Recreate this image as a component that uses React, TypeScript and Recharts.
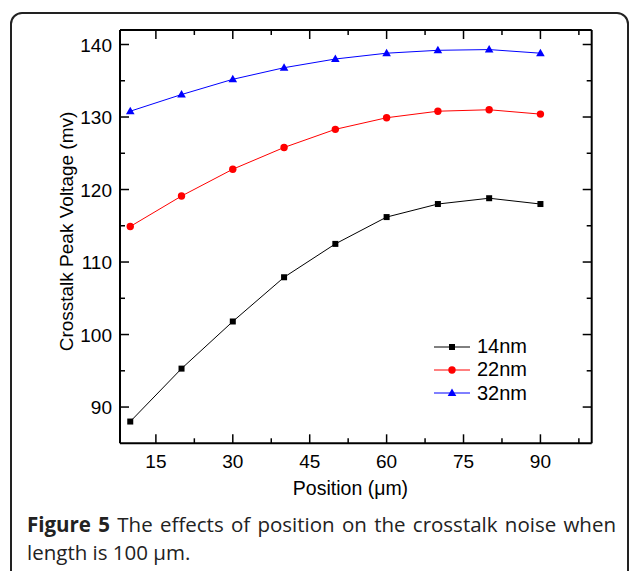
import React from "react";
import { LineChart, Line, XAxis, YAxis, Legend, Label } from "recharts";

// position along the line (um)
const positions = [10, 20, 30, 40, 50, 60, 70, 80, 90];
// crosstalk peak voltage (mv) per technology node
const nm14 = [88.0, 95.3, 101.8, 107.9, 112.5, 116.2, 118.0, 118.8, 118.0];
const nm22 = [114.9, 119.1, 122.8, 125.8, 128.3, 129.9, 130.8, 131.0, 130.4];
const nm32 = [130.8, 133.1, 135.2, 136.8, 138.0, 138.8, 139.2, 139.3, 138.8];

const seriesKeys = ["nm14", "nm22", "nm32"];
const seriesNames = ["14nm", "22nm", "32nm"];
const seriesColors = ["#000000", "#ff0000", "#0000ff"];
const seriesShapes = ["square", "circle", "triangle"];

const xTicks = [15, 22.5, 30, 37.5, 45, 52.5, 60, 67.5, 75, 82.5, 90, 97.5];
const xLabels = [15, 30, 45, 60, 75, 90];
const yTicks = [90, 95, 100, 105, 110, 115, 120, 125, 130, 135, 140];
const yLabels = [90, 100, 110, 120, 130, 140];

const data = positions.map((x, i) => ({ x, nm14: nm14[i], nm22: nm22[i], nm32: nm32[i] }));

const FONT = "'Liberation Sans', Arial, sans-serif";
const W = 630;
const H = 571;

const Marker = ({ shape, cx, cy, color }: any) => {
  if (cx == null || cy == null) return null;
  if (shape === "square") return <rect x={cx - 3} y={cy - 3} width={6} height={6} fill={color} />;
  if (shape === "circle") return <circle cx={cx} cy={cy} r={3.7} fill={color} />;
  return <polygon points={`${cx},${cy - 4.5} ${cx - 4.3},${cy + 3} ${cx + 4.3},${cy + 3}`} fill={color} />;
};

const BottomTick = ({ x, y, payload }: any) => {
  const major = xLabels.includes(payload.value);
  return (
    <g>
      <line x1={x} x2={x} y1={y} y2={y - (major ? 9 : 5)} stroke="#000" strokeWidth={1.5} />
      {major && (
        <text x={x} y={y + 25} textAnchor="middle" fontFamily={FONT} fontSize={19} fill="#000">
          {payload.value}
        </text>
      )}
    </g>
  );
};

const TopTick = ({ x, y, payload }: any) => {
  const major = xLabels.includes(payload.value);
  return <line x1={x} x2={x} y1={y} y2={y + (major ? 9 : 5)} stroke="#000" strokeWidth={1.5} />;
};

const LeftTick = ({ x, y, payload }: any) => {
  const major = yLabels.includes(payload.value);
  return (
    <g>
      <line x1={x} x2={x + (major ? 9 : 5)} y1={y} y2={y} stroke="#000" strokeWidth={1.5} />
      {major && (
        <text x={x - 8} y={y + 7} textAnchor="end" fontFamily={FONT} fontSize={19} fill="#000">
          {payload.value}
        </text>
      )}
    </g>
  );
};

const RightTick = ({ x, y, payload }: any) => {
  const major = yLabels.includes(payload.value);
  return <line x1={x} x2={x - (major ? 9 : 5)} y1={y} y2={y} stroke="#000" strokeWidth={1.5} />;
};

const renderLegend = () => (
  <div style={{ fontFamily: FONT, fontSize: 20, color: "#000" }}>
    {seriesNames.map((name, i) => (
      <div key={name} style={{ display: "flex", alignItems: "center", height: 23.3 }}>
        <svg width={36} height={12} style={{ overflow: "visible" }}>
          <line x1={0} x2={36} y1={6} y2={6} stroke={seriesColors[i]} strokeWidth={1} />
          <Marker shape={seriesShapes[i]} cx={18} cy={6} color={seriesColors[i]} />
        </svg>
        <span style={{ marginLeft: 7, lineHeight: "23.3px" }}>{name}</span>
      </div>
    ))}
  </div>
);

const axisLine = { stroke: "#000", strokeWidth: 2 };

export default function App() {
  return (
    <div style={{ position: "absolute", left: 0, top: 0, width: W, height: H, overflow: "hidden", background: "#fff" }}>
      <div
        style={{
          position: "absolute",
          left: 10,
          top: 12,
          width: 619,
          height: 640,
          boxSizing: "border-box",
          border: "2px solid #222",
          borderRadius: 12,
        }}
      />
      <div style={{ position: "absolute", left: 0, top: 0 }}>
        <LineChart width={W} height={H} data={data} margin={{ top: 29, right: 37.3, bottom: 126.7, left: 119 }}>
          <XAxis
            xAxisId="b"
            dataKey="x"
            type="number"
            domain={[8, 100]}
            allowDataOverflow
            ticks={xTicks}
            interval={0}
            height={1}
            tickSize={0}
            tickMargin={0}
            tickLine={false}
            tick={<BottomTick />}
            axisLine={axisLine}
          >
            <Label
              content={() => (
                <text x={350.5} y={495} textAnchor="middle" fontFamily={FONT} fontSize={19.5} fill="#000">
                  Position (μm)
                </text>
              )}
            />
          </XAxis>
          <XAxis
            xAxisId="t"
            orientation="top"
            dataKey="x"
            type="number"
            domain={[8, 100]}
            allowDataOverflow
            ticks={xTicks}
            interval={0}
            height={1}
            tickSize={0}
            tickMargin={0}
            tickLine={false}
            tick={<TopTick />}
            axisLine={axisLine}
          />
          <YAxis
            yAxisId="l"
            type="number"
            domain={[85, 142]}
            allowDataOverflow
            ticks={yTicks}
            interval={0}
            width={1}
            tickSize={0}
            tickMargin={0}
            tickLine={false}
            tick={<LeftTick />}
            axisLine={axisLine}
          >
            <Label
              content={() => (
                <text
                  transform="translate(73,231.5) rotate(-90)"
                  textAnchor="middle"
                  fontFamily={FONT}
                  fontSize={19}
                  fill="#000"
                >
                  Crosstalk Peak Voltage (mv)
                </text>
              )}
            />
          </YAxis>
          <YAxis
            yAxisId="r"
            orientation="right"
            type="number"
            domain={[85, 142]}
            allowDataOverflow
            ticks={yTicks}
            interval={0}
            width={1}
            tickSize={0}
            tickMargin={0}
            tickLine={false}
            tick={<RightTick />}
            axisLine={axisLine}
          />
          <Legend
            layout="vertical"
            align="center"
            verticalAlign="middle"
            content={renderLegend}
            wrapperStyle={{ left: 434, top: 335, width: 120 }}
          />
          {seriesKeys.map((key, i) => (
            <Line
              key={key}
              xAxisId="b"
              yAxisId="l"
              type="linear"
              dataKey={key}
              name={seriesNames[i]}
              stroke={seriesColors[i]}
              strokeWidth={1}
              isAnimationActive={false}
              dot={(p: any) => <Marker key={`${key}-${p.index}`} shape={seriesShapes[i]} cx={p.cx} cy={p.cy} color={seriesColors[i]} />}
              activeDot={false}
            />
          ))}
        </LineChart>
      </div>
      <div
        style={{
          position: "absolute",
          left: 27,
          top: 510,
          width: 589,
          fontFamily: "'Open Sans', sans-serif",
          fontSize: 20.5,
          lineHeight: "28px",
          color: "#222",
          textAlign: "justify",
        }}
      >
        <b>Figure 5</b> The effects of position on the crosstalk noise when length is 100 μm.
      </div>
    </div>
  );
}
